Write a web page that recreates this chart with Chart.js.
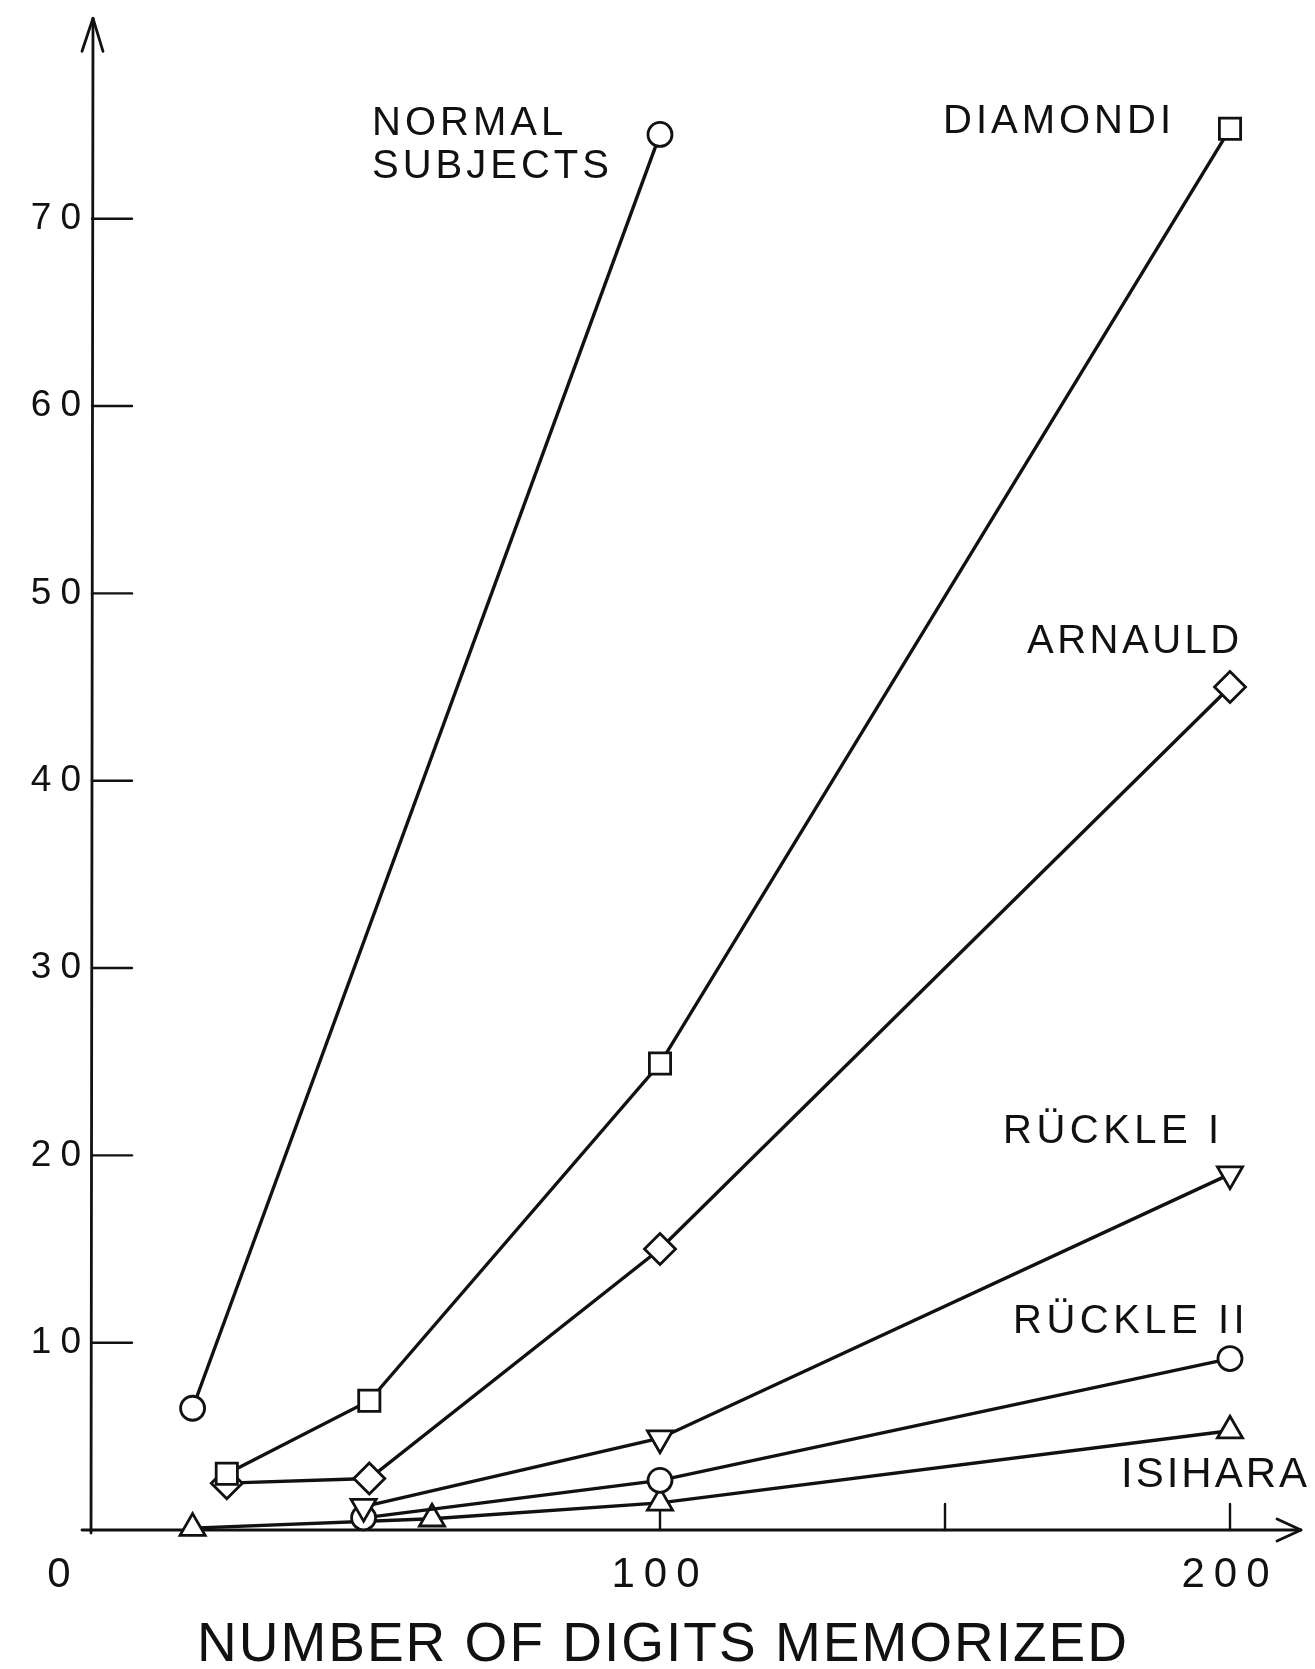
<!DOCTYPE html>
<html><head><meta charset="utf-8">
<script src="https://cdn.jsdelivr.net/npm/chart.js@4.4.1/dist/chart.umd.min.js"></script>
<style>html,body{margin:0;padding:0;background:#fff}#wrap{width:1315px;height:1669px;position:relative}</style>
</head><body><div id="wrap"><canvas id="c" width="1315" height="1669"></canvas></div>
<script>
// ---- data ----
const normalX   = [18, 100];
const normalY   = [6.5, 74.5];
const diamondiX = [24, 49, 100, 200];
const diamondiY = [3.0, 6.9, 24.9, 74.8];
const arnauldX  = [24, 49, 100, 200];
const arnauldY  = [2.5, 2.75, 15.0, 45.0];
const ruckle1X  = [48, 100, 200];
const ruckle1Y  = [1.25, 4.9, 19.0];
const ruckle2X  = [48, 100, 200];
const ruckle2Y  = [0.65, 2.65, 9.15];
const isiharaX  = [18, 60, 100, 200];
const isiharaY  = [0.1, 0.6, 1.45, 5.3];
const seriesNames = ['NORMAL SUBJECTS', 'DIAMONDI', 'ARNAULD', 'RÜCKLE I', 'RÜCKLE II', 'ISIHARA'];
const yTickValues = [10, 20, 30, 40, 50, 60, 70];
const xTickValues = [100, 200];
const xTickMarks  = [100, 150, 200];
const xTitle = 'NUMBER OF DIGITS MEMORIZED';

const FONT = "'Liberation Sans', Arial, sans-serif";
const INK = '#111';
const pts = (xs, ys) => xs.map((x, i) => ({x: x, y: ys[i]}));

function ds(label, xs, ys, style, radius, rotation) {
  return {
    label: label, data: pts(xs, ys),
    borderColor: INK, borderWidth: 3.4, tension: 0, clip: false,
    pointStyle: style, pointRadius: radius, pointHoverRadius: radius,
    pointRotation: rotation || 0,
    pointBackgroundColor: '#fff', pointBorderColor: INK, pointBorderWidth: 2.8
  };
}

function txt(c, s, x, y, size, spacing, align) {
  c.save();
  c.letterSpacing = spacing + 'px';
  c.font = size + 'px ' + FONT;
  c.fillStyle = INK;
  c.textAlign = align || 'left';
  c.textBaseline = 'alphabetic';
  c.fillText(s, x, y);
  c.restore();
}

const deco = {
  id: 'deco',
  beforeDraw(chart) {
    const c = chart.ctx;
    c.save(); c.fillStyle = '#fff'; c.fillRect(0, 0, chart.width, chart.height); c.restore();
    c.letterSpacing = '9px';
  },
  beforeDatasetsDraw(chart) {
    const c = chart.ctx, xs = chart.scales.x, ys = chart.scales.y;
    const x0 = xs.getPixelForValue(0), y0 = ys.getPixelForValue(0);
    const top = chart.chartArea.top;
    c.save();
    c.letterSpacing = '0px';
    c.strokeStyle = INK; c.lineWidth = 2.8; c.lineCap = 'round'; c.lineJoin = 'round';
    // y axis with arrow
    c.beginPath(); c.moveTo(x0 + 1, y0 + 3); c.lineTo(x0 + 3, top); c.stroke();
    c.beginPath(); c.moveTo(x0 - 8, top + 33); c.lineTo(x0 + 3, top); c.lineTo(x0 + 13, top + 33); c.stroke();
    // x axis with arrow
    const xEnd = 1301;
    c.beginPath(); c.moveTo(x0 - 8, y0); c.lineTo(xEnd, y0); c.stroke();
    c.beginPath(); c.moveTo(xEnd - 24, y0 - 11); c.lineTo(xEnd, y0); c.lineTo(xEnd - 24, y0 + 11); c.stroke();
    // y ticks (inside)
    c.lineWidth = 2.4;
    yTickValues.forEach(v => {
      const py = ys.getPixelForValue(v);
      c.beginPath(); c.moveTo(x0 + 2, py); c.lineTo(x0 + 42, py); c.stroke();
    });
    // x ticks (upward)
    xTickMarks.forEach(v => {
      const px = xs.getPixelForValue(v);
      c.beginPath(); c.moveTo(px, y0); c.lineTo(px, y0 - 26); c.stroke();
    });
    c.restore();
  },
  afterDraw(chart) {
    const c = chart.ctx, xs = chart.scales.x, ys = chart.scales.y;
    const x0 = xs.getPixelForValue(0), y0 = ys.getPixelForValue(0);
    txt(c, '0', x0 - 31, y0 + 57, 42, 0, 'center');
    txt(c, 'NORMAL', 372, 135, 40, 4);
    txt(c, 'SUBJECTS', 372, 178, 40, 4);
    txt(c, seriesNames[1], 943, 133, 40, 4);
    txt(c, seriesNames[2], 1027, 653, 40, 3.5);
    txt(c, seriesNames[3], 1003, 1143, 40, 4.5);
    txt(c, seriesNames[4], 1013, 1333, 40, 4.5);
    txt(c, seriesNames[5], 1121, 1487, 42, 3);
    txt(c, xTitle, 663, 1661, 55, 2, 'center');
  }
};

new Chart(document.getElementById('c'), {
  type: 'line',
  data: {
    datasets: [
      ds(seriesNames[0], normalX, normalY, 'circle', 12),
      ds(seriesNames[1], diamondiX, diamondiY, 'rect', 15),
      ds(seriesNames[2], arnauldX, arnauldY, 'rectRot', 15.5),
      ds(seriesNames[3], ruckle1X, ruckle1Y, 'triangle', 14.5, 180),
      ds(seriesNames[4], ruckle2X, ruckle2Y, 'circle', 12),
      ds(seriesNames[5], isiharaX, isiharaY, 'triangle', 14.5)
    ]
  },
  plugins: [deco],
  options: {
    responsive: false, animation: false, devicePixelRatio: 1,
    layout: { padding: { top: 13, right: 85, left: 0, bottom: 0 } },
    plugins: { legend: { display: false }, tooltip: { enabled: false } },
    scales: {
      x: {
        type: 'linear', min: 0, max: 200,
        grid: { display: false, drawTicks: false }, border: { display: false },
        afterBuildTicks: s => { s.ticks = xTickValues.map(v => ({value: v})); },
        afterFit: s => { s.height = 139; s.paddingLeft = 0; s.paddingRight = 0; },
        ticks: { color: INK, font: { family: FONT, size: 42 }, padding: 20, maxRotation: 0, autoSkip: false }
      },
      y: {
        type: 'linear', min: 0, max: 80.7,
        grid: { display: false, drawTicks: false }, border: { display: false },
        afterBuildTicks: s => { s.ticks = yTickValues.map(v => ({value: v})); },
        afterFit: s => { s.width = 90; s.paddingTop = 0; s.paddingBottom = 0; },
        ticks: { color: INK, font: { family: FONT, size: 37 }, padding: 0, autoSkip: false }
      }
    }
  }
});
</script></body></html>
